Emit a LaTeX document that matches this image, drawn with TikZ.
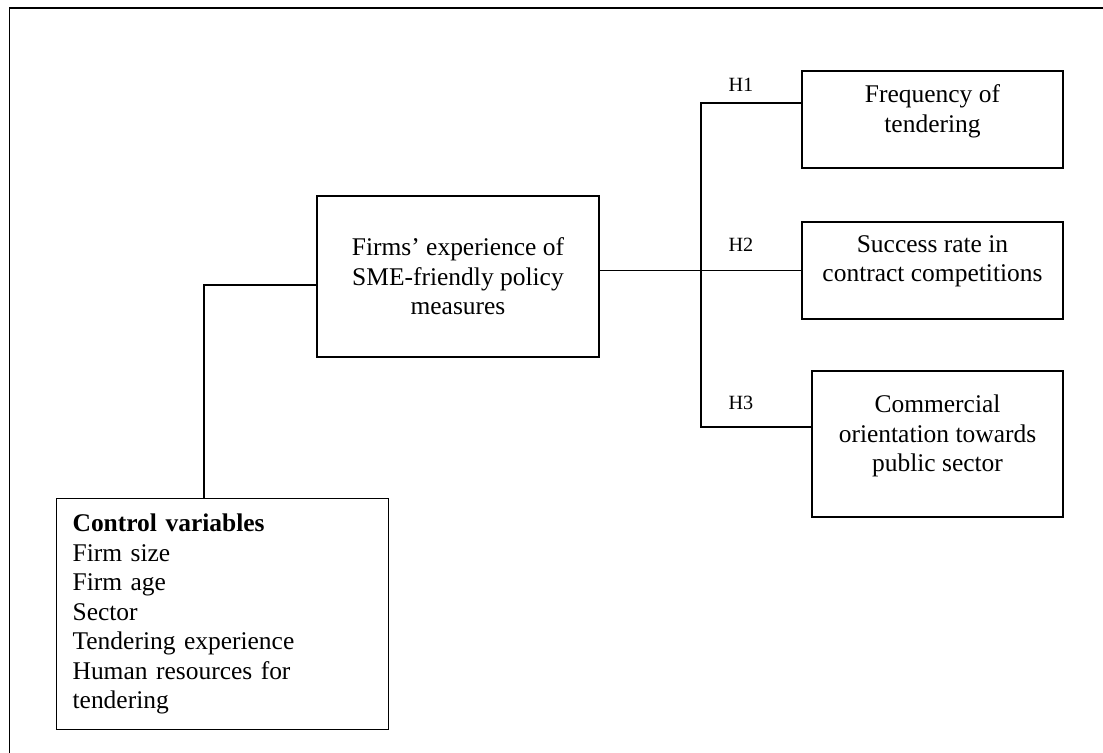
\documentclass[tikz,border=0pt]{standalone}
\usepackage{fontspec}
\setmainfont{Liberation Serif}
\newcommand{\lift}[1]{\rule[-#1]{0pt}{#1}}

\begin{document}
\begin{tikzpicture}[x=0.02cm, y=-0.02cm,
    every node/.style={font=\fontsize{14.5}{16.8}\selectfont},
    box/.style={draw, line width=0.7pt, align=center, inner sep=0pt},
    hlab/.style={font=\fontsize{11.5}{13}\selectfont, anchor=base}]
    \useasboundingbox (0,0) rectangle (1103,753);
    \draw [line width=1.1pt] (9.5,753) -- (9.5,8.3) -- (1103,8.3);
    % outcome boxes
    \node[box, minimum width=5.22cm, minimum height=1.94cm] (freq) at (932.5,119.5)
        {Frequency of\\tendering\lift{0.43cm}};
    \node[box, minimum width=5.22cm, minimum height=1.94cm] (succ) at (932.5,270.5)
        {Success rate in\\contract competitions\lift{0.47cm}};
    \node[box, minimum width=5.02cm, minimum height=2.92cm] (comm) at (937.5,444)
        {Commercial\\orientation towards\\public sector\lift{0.43cm}};
    % policy measures
    \node[box, minimum width=5.64cm, minimum height=3.22cm] (mid) at (458,276.5)
        {Firms' experience of\\SME-friendly policy\\measures};
    % controls
    \node[box, anchor=north west, text width=6cm, inner xsep=0.32cm,
        minimum height=4.62cm, align=left] (ctrl) at (56,498)
        {\textbf{Control variables}\\Firm size\\Firm age\\Sector\\Tendering experience\\Human resources for\\tendering};
    \coordinate (h1) at (701,103);
    \coordinate (h3) at (701,427);
    \coordinate (cv) at (204,285);
    \draw [line width=0.7pt] (h1 -| freq.west) -- (h1) -- (h3) -- (h3 -| comm.west);
    \draw [line width=0.7pt] (mid.east |- succ.west) -- (succ.west);
    \draw [line width=0.7pt] (cv -| mid.west) -- (cv) -- (cv |- ctrl.north);
    \node[hlab] (h1lab) at (741,92) {H1};
    \node[hlab] (h2lab) at (741,252) {H2};
    \node[hlab] (h3lab) at (741,410) {H3};
\end{tikzpicture}
\end{document}
